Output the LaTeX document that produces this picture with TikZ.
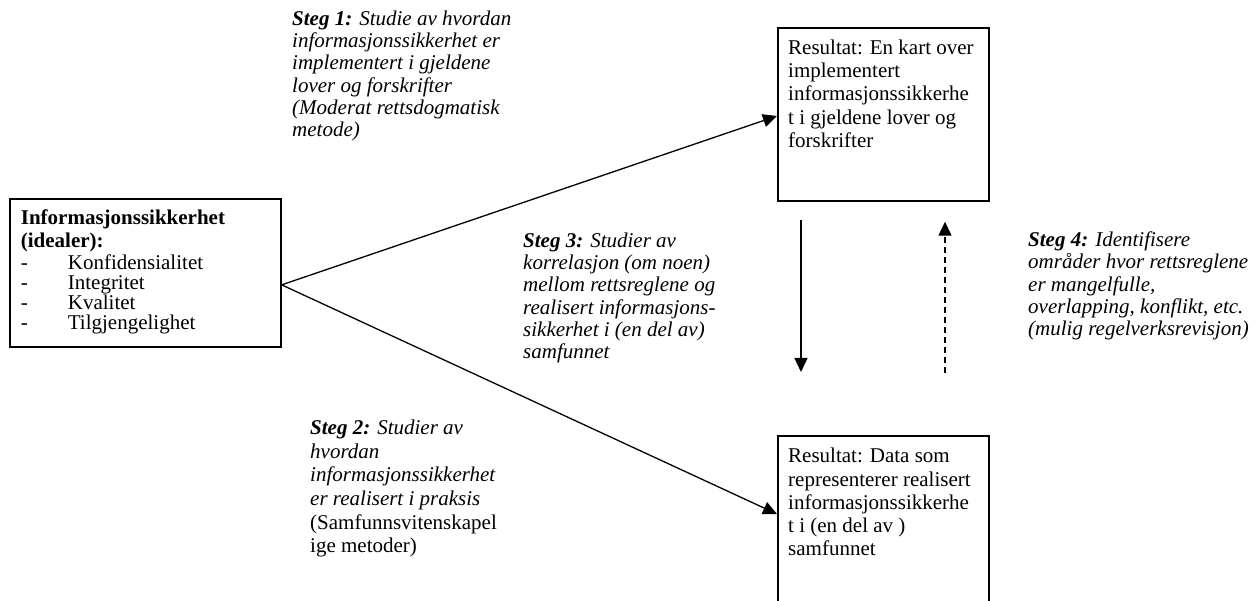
\documentclass[tikz,border=0pt]{standalone}
\usepackage{fontspec}
\setmainfont{Liberation Serif}
\usetikzlibrary{arrows.meta,calc}
\begin{document}
\begin{tikzpicture}[x=1pt,y=-1pt,
  box/.style={draw,line width=1.7pt,minimum width=211pt,inner sep=0pt,anchor=north west},
  steptxt/.style={anchor=north west,inner sep=0pt,align=left,font=\fontsize{21}{22.3}\selectfont\itshape},
  boxtxt/.style={anchor=north west,inner sep=0pt,align=left,font=\fontsize{21}{23.3}\selectfont},
  arr/.style={line width=1.3pt,-{Triangle[length=14pt,width=13pt]}},
  dasharr/.style={arr,dash pattern=on 6pt off 4pt},
]
\useasboundingbox (0,0) rectangle (1256,601);

% left box
\node[box,minimum width=271pt,minimum height=148pt,text width=249pt,align=left,
      font=\fontsize{21}{20}\selectfont] (info) at (9,198)
 {\textbf{Informasjonssikkerhet}\\[3pt]
  \textbf{(idealer):}\\[2pt]
  \makebox[47pt][l]{-}Konfidensialitet\\
  \makebox[47pt][l]{-}Integritet\\
  \makebox[47pt][l]{-}Kvalitet\\
  \makebox[47pt][l]{-}Tilgjengelighet\rule[-6pt]{0pt}{6pt}};

% result boxes
\node[box,minimum height=173pt] (res1) at (777,27) {};
\node[boxtxt] (res1txt) at ($(res1.north west)+(11,12.5)$)
 {Resultat: En kart over\\
  implementert\\
  informasjonssikkerhe\\
  t i gjeldene lover og\\
  forskrifter};

\node[box,minimum height=185pt] (res2) at (777,435) {};
\node[boxtxt] (res2txt) at ($(res2.north west)+(11,13)$)
 {Resultat: Data som\\
  representerer realisert\\
  informasjonssikkerhe\\
  t i (en del av )\\
  samfunnet};

% step labels
\node[steptxt] (s1) at (292,10.5)
 {\textbf{Steg 1:} Studie av hvordan\\
  informasjonssikkerhet er\\
  implementert i gjeldene\\
  lover og forskrifter\\
  (Moderat rettsdogmatisk\\
  metode)};

\node[steptxt] (s3) at (523,232.5)
 {\textbf{Steg 3:} Studier av\\
  korrelasjon (om noen)\\
  mellom rettsreglene og\\
  realisert informasjons-\\
  sikkerhet i (en del av)\\
  samfunnet};

\node[steptxt] (s4) at (1028,231.5)
 {\textbf{Steg 4:} Identifisere\\
  områder hvor rettsreglene\\
  er mangelfulle,\\
  overlapping, konflikt, etc.\\
  (mulig regelverksrevisjon)};

\node[steptxt,font=\fontsize{21}{23.6}\selectfont\itshape] (s2) at (310,420)
 {\textbf{Steg 2:} Studier av\\
  hvordan\\
  informasjonssikkerhet\\
  er realisert i praksis\\
  \upshape(Samfunnsvitenskapel\\
  \upshape ige metoder)};

% connectors
\coordinate (o) at ($(info.east)+(0,12)$);
\draw[arr] (o) -- ($(res1.north west)+(0,89)$);
\draw[arr] (o) -- ($(res2.north west)+(0,79)$);
\draw[arr,shorten <=18pt,shorten >=63pt] ($(res1.south west)+(24,0)$) -- ($(res2.north west)+(24,0)$);
\draw[dasharr,shorten <=62pt,shorten >=20pt] ($(res2.north west)+(168,0)$) -- ($(res1.south west)+(168,0)$);
\end{tikzpicture}
\end{document}
